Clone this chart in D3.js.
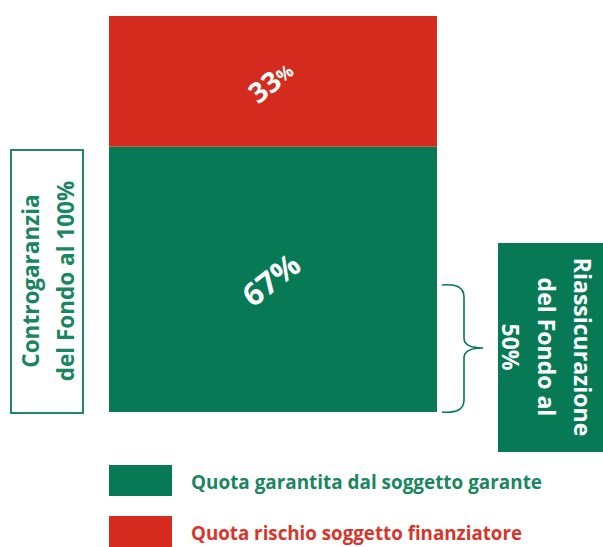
<!DOCTYPE html>
<html><head><meta charset="utf-8">
<script src="https://cdn.jsdelivr.net/npm/d3@7"></script>
<style>body{margin:0;background:#fff}svg{display:block}</style>
</head><body>
<script>
const categories = ["Garanzia"];
const seriesNames = ["Quota garantita dal soggetto garante", "Quota rischio soggetto finanziatore"];
const seriesValues = [67, 33];
const seriesLabels = ["67%", "33%"];
const leftBoxLines = ["Controgaranzia", "del Fondo al 100%"];
const rightBoxLines = ["Riassicurazione", "del Fondo al", "50%"];

const W = 603, H = 547;
const green = "#077a55", red = "#d42b1e";
const colors = [green, red];
const font = "'Open Sans', Lato, sans-serif";

const svg = d3.select("body").append("svg").attr("width", W).attr("height", H);

const x = d3.scaleBand().domain(categories).range([109, 437]).padding(0);
const y = d3.scaleLinear().domain([0, 100]).range([412, 16]);

let cum = 0;
const stacks = seriesValues.map((v, i) => { const s = {y0: cum, y1: cum + v, i}; cum += v; return s; });

svg.selectAll("rect.bar").data(stacks).enter().append("rect")
  .attr("class", "bar")
  .attr("x", x(categories[0]))
  .attr("width", x.bandwidth())
  .attr("y", d => y(d.y1))
  .attr("height", d => y(d.y0) - y(d.y1))
  .attr("fill", d => colors[d.i]);

svg.selectAll("text.pct").data(stacks).enter().append("text")
  .attr("class", "pct")
  .attr("transform", d => `translate(${x(categories[0]) + x.bandwidth()/2 + 0},${(y(d.y0) + y(d.y1))/2 + 3}) rotate(-38)`)
  .attr("text-anchor", "middle").attr("dominant-baseline", "middle")
  .attr("fill", "#fff").attr("font-family", font).attr("font-weight", "bold")
  .attr("font-size", d => d.i === 0 ? 31 : 28)
  .each(function(d){
    const t = d3.select(this);
    const lab = seriesLabels[d.i];
    t.append("tspan").text(lab.replace("%", ""));
    t.append("tspan").attr("font-size", d.i === 0 ? 31 : 18).text("%");
  });

// left box
svg.append("rect").attr("x", 11).attr("y", 150).attr("width", 72).attr("height", 263)
  .attr("fill", "none").attr("stroke", green).attr("stroke-width", 1.8);
const lt = svg.append("text").attr("transform", "translate(47,281) rotate(-90)")
  .attr("text-anchor", "middle").attr("fill", "#1a8660").attr("font-family", font)
  .attr("font-weight", "bold").attr("font-size", 22.5);
leftBoxLines.forEach((l, i) => lt.append("tspan").attr("x", 0).attr("y", i === 0 ? -8 : 27).text(l));

// bracket
const bx = 442, btop = 285, bbot = 412, bmid = 348;
const br = d3.path();
br.moveTo(bx, btop);
br.quadraticCurveTo(bx + 22, btop - 2, bx + 22, btop + 12);
br.lineTo(bx + 22, bmid - 10);
br.quadraticCurveTo(bx + 22, bmid, bx + 41, bmid);
br.quadraticCurveTo(bx + 22, bmid, bx + 22, bmid + 10);
br.lineTo(bx + 22, bbot - 12);
br.quadraticCurveTo(bx + 22, bbot + 2, bx, bbot);
svg.append("path").attr("d", br.toString()).attr("fill", "none").attr("stroke", green).attr("stroke-width", 1.6);

// right box
svg.append("rect").attr("x", 498).attr("y", 243).attr("width", 110).attr("height", 209).attr("fill", green);
const rt = svg.append("text").attr("transform", "translate(547,347) rotate(90)")
  .attr("text-anchor", "middle").attr("fill", "#fff").attr("font-family", font)
  .attr("font-weight", "bold").attr("font-size", 23);
rightBoxLines.forEach((l, i) => rt.append("tspan").attr("x", 0).attr("y", [-27, 9, 45][i]).text(l));

// legend
const leg = svg.selectAll("g.leg").data(seriesNames).enter().append("g").attr("class", "leg")
  .attr("transform", (d, i) => `translate(109,${465 + i * 51})`);
leg.append("rect").attr("width", 63).attr("height", 31).attr("fill", (d, i) => colors[i]);
leg.append("text").attr("x", 82).attr("y", 24).text(d => d)
  .attr("fill", (d, i) => i === 0 ? "#1a8660" : "#d9342a")
  .attr("font-family", font).attr("font-weight", "bold").attr("font-size", 19)
  .attr("textLength", (d, i) => i === 0 ? 351 : 331).attr("lengthAdjust", "spacingAndGlyphs");
</script>
</body></html>
